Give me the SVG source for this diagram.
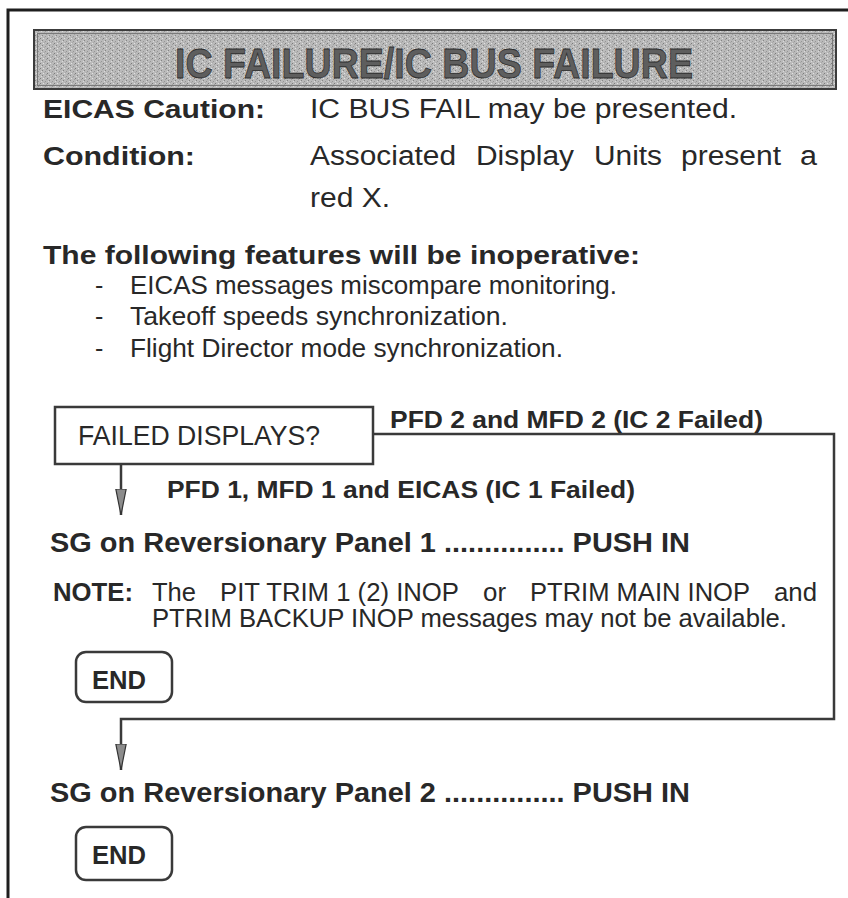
<svg xmlns="http://www.w3.org/2000/svg" width="848" height="898" viewBox="0 0 848 898">
<defs>
<pattern id="grain" patternUnits="userSpaceOnUse" width="7" height="5">
<rect width="7" height="5" fill="#bababa"/>
<rect x="0" y="0" width="1" height="1" fill="#858585"/>
<rect x="3" y="1" width="1" height="1" fill="#969696"/>
<rect x="5" y="3" width="1" height="1" fill="#7a7a7a"/>
<rect x="1" y="3" width="1" height="1" fill="#e2e2e2"/>
<rect x="4" y="4" width="1" height="1" fill="#9c9c9c"/>
<rect x="6" y="1" width="1" height="1" fill="#dadada"/>
<rect x="2" y="2" width="1" height="1" fill="#a8a8a8"/>
</pattern>
<marker id="arr" viewBox="0 0 26 12" refX="26" refY="6" markerWidth="26" markerHeight="12" markerUnits="userSpaceOnUse" orient="auto">
<path d="M0,0.8 L26,6 L0,11.2 Z" fill="#8c8c8c" stroke="#333" stroke-width="1.2"/>
</marker>
<style>
text{font-family:"Liberation Sans",Arial,sans-serif;fill:#282828}
.b{font-weight:bold}
.lbl{font-size:26px;font-weight:bold}
.val{font-size:27px}
.item{font-size:25px}
.flow{font-size:24px;font-weight:bold}
.step{font-size:27px;font-weight:bold}
.note{font-size:25px}
.box{fill:#fff;stroke:#3a3a3a;stroke-width:2.5}
.conn{fill:none;stroke:#3a3a3a;stroke-width:2.5}
</style>
</defs>
<rect width="848" height="898" fill="#fff"/>
<g id="frame">
<path d="M8,898 L8,10 L848,10" fill="none" stroke="#1e1e1e" stroke-width="3"/>
</g>
<g id="header">
<rect x="34" y="30" width="802" height="59" fill="url(#grain)" stroke="#3c3c3c" stroke-width="2"/>
<rect x="37.5" y="33.5" width="795" height="52" fill="none" stroke="#7a7a7a" stroke-width="1"/>
<text x="175" y="78" class="b" font-size="43" textLength="518" lengthAdjust="spacingAndGlyphs" style="fill:#5e5e5e;stroke:#2e2e2e;stroke-width:0.8">IC FAILURE/IC BUS FAILURE</text>
</g>
<g id="info">
<text x="43" y="118" class="lbl" textLength="222" lengthAdjust="spacingAndGlyphs">EICAS Caution:</text>
<text x="310" y="118" class="val" textLength="427" lengthAdjust="spacingAndGlyphs">IC BUS FAIL may be presented.</text>
<text x="43" y="165" class="lbl" textLength="152" lengthAdjust="spacingAndGlyphs">Condition:</text>
<text y="165" class="val"><tspan x="310" textLength="146" lengthAdjust="spacingAndGlyphs">Associated</tspan><tspan x="476" textLength="98" lengthAdjust="spacingAndGlyphs">Display</tspan><tspan x="594" textLength="68" lengthAdjust="spacingAndGlyphs">Units</tspan><tspan x="681" textLength="100" lengthAdjust="spacingAndGlyphs">present</tspan><tspan x="800" textLength="17" lengthAdjust="spacingAndGlyphs">a</tspan></text>
<text x="310" y="207" class="val" textLength="80" lengthAdjust="spacingAndGlyphs">red X.</text>
<text x="43" y="264" class="lbl" textLength="597" lengthAdjust="spacingAndGlyphs">The following features will be inoperative:</text>
<text x="95" y="294" class="item">-</text>
<text x="130" y="294" class="item" textLength="487" lengthAdjust="spacingAndGlyphs">EICAS messages miscompare monitoring.</text>
<text x="95" y="325" class="item">-</text>
<text x="130" y="325" class="item" textLength="378" lengthAdjust="spacingAndGlyphs">Takeoff speeds synchronization.</text>
<text x="95" y="357" class="item">-</text>
<text x="130" y="357" class="item" textLength="433" lengthAdjust="spacingAndGlyphs">Flight Director mode synchronization.</text>
</g>
<g id="connectors">
<path class="conn" d="M373,434 L834,434 L834,719 L121,719 L121,770" marker-end="url(#arr)"/>
<path class="conn" d="M121,464 L121,515" marker-end="url(#arr)"/>
</g>
<g id="failed-displays">
<rect class="box" x="55" y="407" width="318" height="57"/>
<text x="78" y="445" font-size="27" textLength="242" lengthAdjust="spacingAndGlyphs">FAILED DISPLAYS?</text>
</g>
<g id="label-ic2">
<text x="390" y="428" class="flow" textLength="373" lengthAdjust="spacingAndGlyphs">PFD 2 and MFD 2 (IC 2 Failed)</text>
</g>
<g id="label-ic1">
<text x="167" y="498" class="flow" textLength="468" lengthAdjust="spacingAndGlyphs">PFD 1, MFD 1 and EICAS (IC 1 Failed)</text>
</g>
<g id="step-sg1">
<text x="50" y="552" class="step" textLength="640" lengthAdjust="spacingAndGlyphs">SG on Reversionary Panel 1 ............... PUSH IN</text>
</g>
<g id="note">
<text x="53" y="601" class="note b" textLength="80" lengthAdjust="spacingAndGlyphs">NOTE:</text>
<text y="601" class="note"><tspan x="152" textLength="44" lengthAdjust="spacingAndGlyphs">The</tspan><tspan x="220" textLength="239" lengthAdjust="spacingAndGlyphs">PIT TRIM 1 (2) INOP</tspan><tspan x="483" textLength="23" lengthAdjust="spacingAndGlyphs">or</tspan><tspan x="530" textLength="220" lengthAdjust="spacingAndGlyphs">PTRIM MAIN INOP</tspan><tspan x="774" textLength="43" lengthAdjust="spacingAndGlyphs">and</tspan></text>
<text x="152" y="627" class="note" textLength="635" lengthAdjust="spacingAndGlyphs">PTRIM BACKUP INOP messages may not be available.</text>
</g>
<g id="end-1">
<rect class="box" x="76" y="652" width="96" height="50" rx="10"/>
<text x="92" y="689" class="b" font-size="26" textLength="54" lengthAdjust="spacingAndGlyphs">END</text>
</g>
<g id="step-sg2">
<text x="50" y="802" class="step" textLength="640" lengthAdjust="spacingAndGlyphs">SG on Reversionary Panel 2 ............... PUSH IN</text>
</g>
<g id="end-2">
<rect class="box" x="76" y="827" width="96" height="53" rx="10"/>
<text x="92" y="864" class="b" font-size="26" textLength="54" lengthAdjust="spacingAndGlyphs">END</text>
</g>
</svg>
